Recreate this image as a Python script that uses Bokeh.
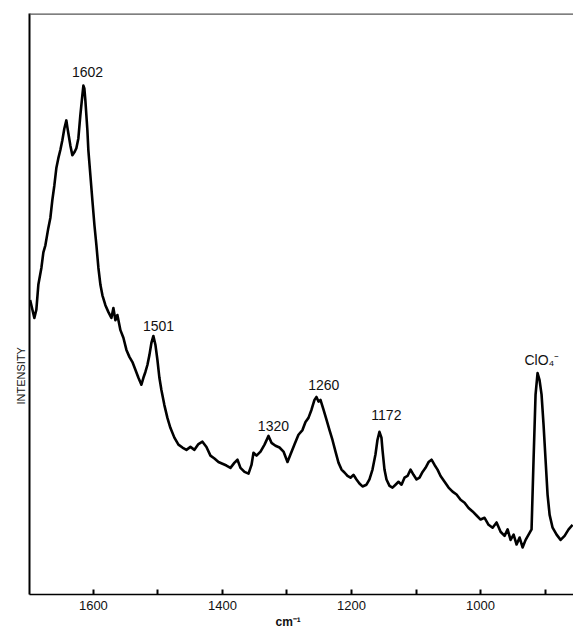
from bokeh.plotting import figure
from bokeh.models import Range1d, FixedTicker, Span, Label, Title
from bokeh.embed import file_html
from bokeh.resources import INLINE

wavenumber = [1698, 1691.5, 1688.4, 1685.3, 1680.6, 1677.5, 1674.4, 1669.8, 1666.7, 1663.6,
              1660.5, 1657.4, 1654.3, 1651.2, 1648.1, 1645.0, 1641.9, 1640.3, 1638.8, 1635.7,
              1632.6, 1629.5, 1626.4, 1623.3, 1620.2, 1617.1, 1615.5, 1614.0, 1612.4, 1609.3,
              1607.8, 1604.7, 1601.6, 1598.4, 1595.3, 1592.2, 1589.1, 1586.0, 1581.4, 1576.7,
              1572.1, 1569.0, 1565.9, 1562.8, 1558.1, 1553.5, 1548.8, 1544.2, 1539.5, 1534.9,
              1530.2, 1525.6, 1522.5, 1519.4, 1516.3, 1513.2, 1510.1, 1507.0, 1503.9, 1500.8,
              1497.7, 1494.6, 1490.0, 1485.3, 1480.7, 1474.5, 1468.2, 1462.0, 1455.8, 1449.6,
              1443.4, 1437.2, 1431.0, 1424.8, 1418.6, 1412.4, 1406.2, 1400.0, 1393.8, 1387.6,
              1381.3, 1376.7, 1372.1, 1365.8, 1359.6, 1355.0, 1351.9, 1347.2, 1341.0, 1334.8,
              1328.6, 1324.0, 1317.8, 1311.6, 1305.4, 1299.2, 1294.6, 1288.4, 1282.2, 1276.0,
              1271.3, 1266.7, 1262.0, 1257.4, 1254.3, 1251.2, 1248.1, 1243.4, 1238.8, 1234.1,
              1229.5, 1224.8, 1220.2, 1215.5, 1210.9, 1206.2, 1201.6, 1197.0, 1192.3, 1187.7,
              1183.0, 1176.8, 1172.2, 1167.5, 1162.9, 1159.8, 1156.7, 1153.6, 1152.0, 1148.9,
              1145.8, 1141.1, 1136.5, 1131.8, 1127.2, 1122.5, 1117.9, 1113.2, 1108.5, 1103.9,
              1099.2, 1094.6, 1089.9, 1085.3, 1080.6, 1076.0, 1071.3, 1066.7, 1062.0, 1055.8,
              1049.6, 1043.4, 1037.2, 1031.0, 1024.8, 1018.6, 1012.4, 1006.2, 1000.0, 993.8,
              987.6, 981.4, 975.2, 969.0, 962.8, 958.1, 953.5, 948.8, 944.2, 939.5,
              934.9, 930.2, 925.6, 921.0, 917.9, 914.8, 911.7, 908.6, 905.5, 902.4,
              899.3, 896.2, 893.0, 888.4, 882.2, 876.0, 869.8, 863.6, 857.4]

intensity = [50.7, 47.6, 49.0, 53.3, 56.2, 58.9, 60.1, 63.1, 64.8, 67.9,
             70.4, 73.4, 75.1, 76.5, 78.2, 80.2, 81.6, 80.4, 79.4, 77.3,
             75.6, 76.1, 76.8, 78.5, 82.5, 85.9, 87.6, 87.1, 85.0, 79.9,
             76.5, 72.2, 67.9, 63.6, 60.1, 56.2, 53.3, 51.5, 49.8, 48.6,
             47.6, 49.3, 47.2, 48.1, 45.5, 44.2, 42.1, 40.9, 40.0, 38.7,
             37.3, 36.1, 37.3, 38.3, 39.5, 41.2, 43.3, 44.5, 43.0, 40.4,
             37.3, 35.2, 32.6, 30.4, 28.7, 27.0, 25.8, 25.3, 24.9, 25.4,
             24.9, 25.9, 26.3, 25.4, 23.9, 23.4, 22.8, 22.5, 22.2, 21.8,
             22.7, 23.2, 21.8, 21.1, 20.8, 22.3, 24.4, 23.9, 24.6, 25.8,
             27.3, 26.1, 25.6, 25.3, 24.6, 22.8, 24.1, 25.8, 27.5, 28.3,
             29.7, 30.4, 31.8, 33.5, 34.0, 33.2, 33.5, 31.8, 30.1, 28.3,
             26.6, 24.6, 22.7, 21.5, 21.0, 20.4, 20.1, 20.6, 19.8, 19.1,
             18.6, 18.9, 19.8, 21.5, 24.1, 26.6, 28.0, 27.0, 24.9, 21.5,
             19.8, 18.7, 18.4, 18.9, 19.4, 18.9, 20.1, 20.4, 21.5, 20.6,
             19.8, 20.1, 21.1, 21.8, 22.8, 23.2, 22.3, 21.5, 20.4, 19.4,
             18.4, 17.7, 17.2, 16.3, 15.8, 14.9, 14.3, 13.6, 12.9, 13.2,
             12.0, 11.5, 12.4, 10.8, 10.1, 11.2, 9.4, 10.3, 8.6, 9.8,
             8.1, 9.4, 10.3, 11.2, 23.2, 34.4, 38.1, 36.9, 34.4, 29.2,
             23.2, 17.2, 13.7, 11.5, 10.3, 9.4, 10.1, 11.2, 12.0]

major_ticks = [1600, 1400, 1200, 1000]
minor_ticks = [1500, 1300, 1100, 900]

peak_labels = ["1602", "1501", "1320", "1260", "1172", "ClO\u2084\u207b"]
peak_label_x = [1609, 1499, 1321, 1243, 1146, 905]
peak_label_y = [90.0, 46.2, 29.0, 36.1, 30.9, 40.4]

x_title = "cm\u207b\u00b9"
y_title = "INTENSITY"

FONT = "Liberation Sans"

p = figure(width=573, height=628, output_backend="svg", toolbar_location=None,
           x_range=Range1d(1699, 856), y_range=Range1d(0, 100),
           min_border_left=29, min_border_right=0, min_border_top=13, min_border_bottom=33)
p.outline_line_color = None
p.xgrid.visible = False
p.ygrid.visible = False
p.background_fill_color = "white"
p.border_fill_color = "white"

p.line(wavenumber, intensity, line_color="black", line_width=2.6, line_join="round")

# x axis
xa = p.xaxis[0]
xa.ticker = FixedTicker(ticks=major_ticks, minor_ticks=minor_ticks)
xa.major_tick_in = 5
xa.major_tick_out = 0
xa.minor_tick_in = 5
xa.minor_tick_out = 0
xa.major_tick_line_width = 2
xa.minor_tick_line_width = 2
xa.axis_line_width = 1.5
xa.axis_line_color = "black"
xa.major_label_text_font = FONT
xa.major_label_text_font_size = "13px"
xa.major_label_text_color = "#111111"
xa.major_label_standoff = 6

# y axis
ya = p.yaxis[0]
ya.ticker = FixedTicker(ticks=[])
ya.major_tick_in = 0
ya.major_tick_out = 0
ya.minor_tick_in = 0
ya.minor_tick_out = 0
ya.major_label_text_font_size = "0px"
ya.major_label_standoff = 0
ya.axis_line_width = 2
ya.axis_line_color = "black"

# top border of the frame
p.add_layout(Span(location=100, dimension="width", line_color="#555555", line_width=2.5))

# axis titles, placed off-centre like the original
p.add_layout(Title(text=y_title, align="left", offset=190, standoff=6,
                   text_font=FONT, text_font_size="11px", text_font_style="normal",
                   text_color="#111111"), "left")
p.add_layout(Title(text=x_title, align="left", offset=246, standoff=0,
                   text_font=FONT, text_font_size="12px", text_font_style="bold",
                   text_color="#111111"), "below")

for t, x, y in zip(peak_labels, peak_label_x, peak_label_y):
    p.add_layout(Label(x=x, y=y, text=t, text_align="center", text_baseline="middle",
                       text_font=FONT, text_font_size="14px", text_color="#111111"))

open("out.html", "w").write(file_html(p, INLINE))
